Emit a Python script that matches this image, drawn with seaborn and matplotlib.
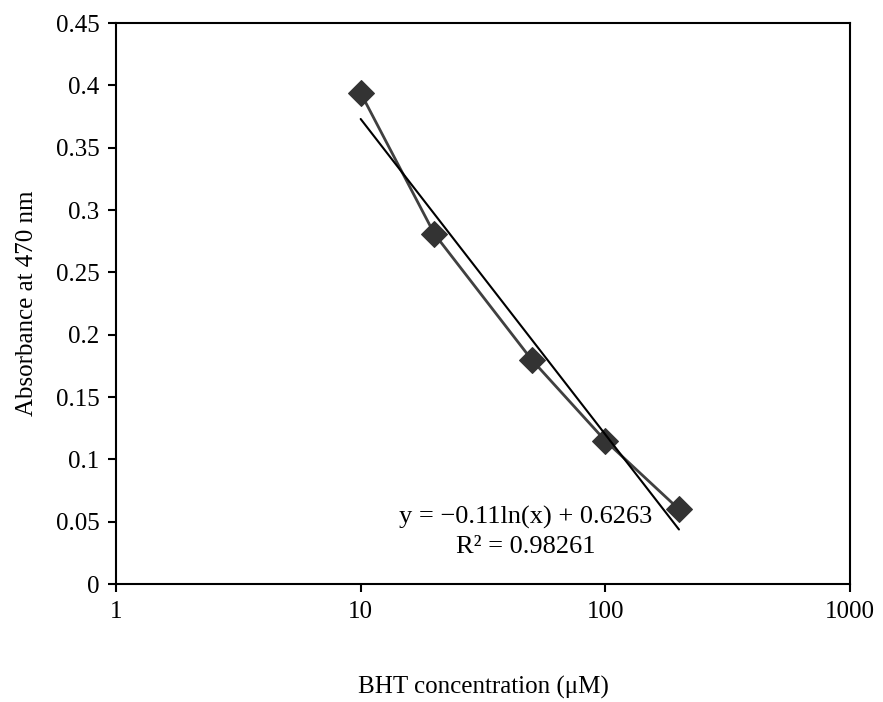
import matplotlib
matplotlib.use("Agg")
import matplotlib.pyplot as plt
import seaborn as sns
import numpy as np
import pandas as pd

# Data
concentration = [10, 20, 50, 100, 200]
absorbance = [0.394, 0.281, 0.180, 0.115, 0.060]
y_ticks = [0, 0.05, 0.1, 0.15, 0.2, 0.25, 0.3, 0.35, 0.4, 0.45]
y_tick_labels = ["0", "0.05", "0.1", "0.15", "0.2", "0.25", "0.3", "0.35", "0.4", "0.45"]
x_ticks = [1, 10, 100, 1000]
x_tick_labels = ["1", "10", "100", "1000"]
eq_text = "y = \u22120.11ln(x) + 0.6263"
r2_text = "R\u00b2 = 0.98261"

df = pd.DataFrame({"conc": concentration, "abs": absorbance})

sns.set_style("ticks")
plt.rcParams["font.family"] = ["Liberation Serif", "DejaVu Serif"]
plt.rcParams["text.color"] = "black"
plt.rcParams["axes.labelcolor"] = "black"

fig = plt.figure(figsize=(8.83, 7.02), dpi=100)
ax = fig.add_axes([0.1314, 0.168, 0.8312, 0.799])

sns.lineplot(data=df, x="conc", y="abs", ax=ax, color="#404040", linewidth=2.0,
             marker="D", markersize=13, markerfacecolor="#333333",
             markeredgecolor="#333333", zorder=3)

# logarithmic trendline fitted to the data
sns.regplot(data=df, x="conc", y="abs", ax=ax, logx=True, scatter=False, ci=None,
            truncate=True, line_kws={"color": "black", "linewidth": 1.5, "zorder": 4})

ax.set_xscale("log")
ax.set_xlim(1, 1000)
ax.set_ylim(0, 0.45)
ax.set_xticks(x_ticks)
ax.set_xticklabels(x_tick_labels)
ax.xaxis.set_minor_locator(matplotlib.ticker.NullLocator())
ax.set_yticks(y_ticks)
ax.set_yticklabels(y_tick_labels)

for s in ax.spines.values():
    s.set_visible(True)
    s.set_linewidth(1.5)
    s.set_color("black")

ax.tick_params(axis="both", direction="out", length=6, width=1.5, labelsize=18,
               colors="black", pad=6)

ax.set_xlabel("BHT concentration (\u03bcM)", fontsize=18, labelpad=38)
ax.set_ylabel("Absorbance at 470 nm", fontsize=18, labelpad=13)

ax.text(0.5586, 0.119, eq_text, transform=ax.transAxes, ha="center", va="center", fontsize=19)
ax.text(0.5586, 0.066, r2_text, transform=ax.transAxes, ha="center", va="center", fontsize=19)

fig.savefig("out.png", dpi=100)
